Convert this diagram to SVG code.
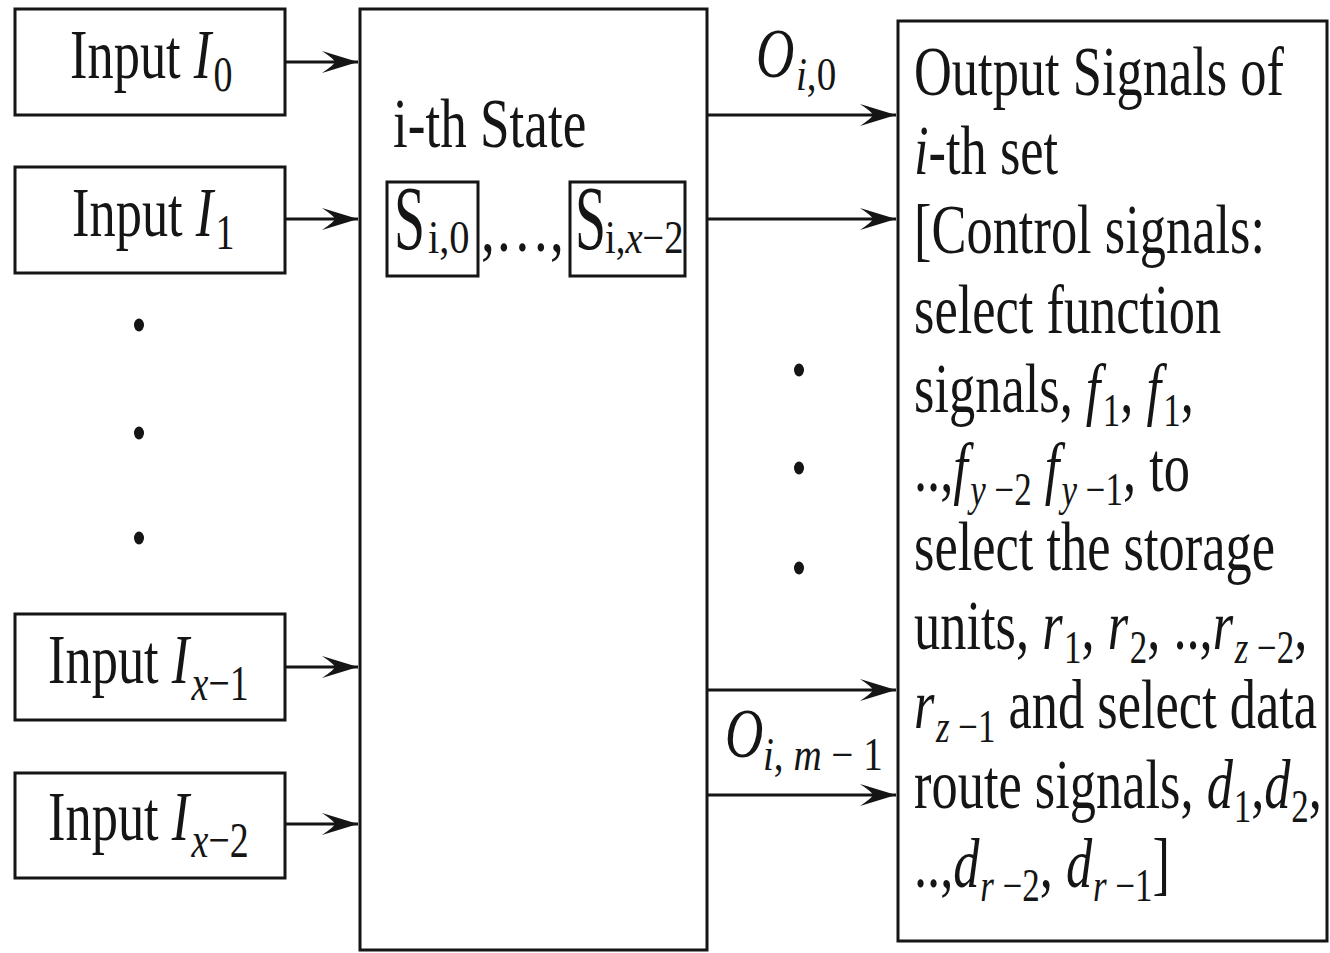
<svg xmlns="http://www.w3.org/2000/svg" width="1330" height="953" viewBox="0 0 1330 953">
<style>
.t{font-family:"Liberation Serif","Times New Roman",serif;font-size:69px;fill:#151515}
.it{font-style:italic}
.sub{font-size:46px}
.isub{font-size:50px}
.box{fill:#fff;stroke:#151515;stroke-width:3}
.conn line{stroke:#151515;stroke-width:3}
.dot{fill:#151515}
</style>
<defs>
<marker id="ah" markerUnits="userSpaceOnUse" markerWidth="40" markerHeight="26" refX="36" refY="12" orient="auto" viewBox="0 0 40 24">
<path d="M36,12 L0,1 Q12,9 13,12 Q12,15 0,23 Z" fill="#151515"/>
</marker>
</defs>
<rect width="1330" height="953" fill="#fff"/>

<g id="in0">
<rect class="box" x="15" y="9" width="270" height="106"/>
<text class="t" transform="translate(70,78) scale(0.76,1)">Input <tspan class="it">I</tspan><tspan class="isub" dx="3" dy="13">0</tspan></text>
</g>
<g id="in1">
<rect class="box" x="15" y="167" width="270" height="106"/>
<text class="t" transform="translate(72,236) scale(0.76,1)">Input <tspan class="it">I</tspan><tspan class="isub" dx="3" dy="13">1</tspan></text>
</g>
<g id="in_x1">
<rect class="box" x="15" y="614" width="270" height="106"/>
<text class="t" transform="translate(48,683) scale(0.76,1)">Input <tspan class="it">I</tspan><tspan class="isub" dx="3" dy="17"><tspan class="it">x</tspan>−1</tspan></text>
</g>
<g id="in_x2">
<rect class="box" x="15" y="773" width="270" height="105"/>
<text class="t" transform="translate(48,840) scale(0.76,1)">Input <tspan class="it">I</tspan><tspan class="isub" dx="3" dy="17"><tspan class="it">x</tspan>−2</tspan></text>
</g>

<g id="dots-left">
<ellipse class="dot" cx="139" cy="325" rx="5" ry="6.5"/>
<ellipse class="dot" cx="139" cy="433" rx="5" ry="6.5"/>
<ellipse class="dot" cx="139" cy="538" rx="5" ry="6.5"/>
</g>

<g id="state">
<rect class="box" x="360" y="9" width="347" height="941"/>
<text class="t" transform="translate(393,147) scale(0.77,1)">i-th State</text>
<g id="s0">
<rect class="box" x="387" y="182" width="91" height="94"/>
<text class="t" style="font-size:90px" transform="translate(394,249) scale(0.62,1)">S</text>
<text class="t sub" transform="translate(428,253) scale(0.88,1)">i,0</text>
</g>
<text class="t" transform="translate(481,251) scale(0.8,1)">,…,</text>
<g id="sx2">
<rect class="box" x="570" y="182" width="115" height="94"/>
<text class="t" style="font-size:90px" transform="translate(575,249) scale(0.62,1)">S</text>
<text class="t sub" transform="translate(605,253) scale(0.84,1)">i,<tspan class="it">x</tspan>−2</text>
</g>
</g>

<g id="dots-right">
<ellipse class="dot" cx="799" cy="370" rx="5" ry="6.5"/>
<ellipse class="dot" cx="799" cy="468" rx="5" ry="6.5"/>
<ellipse class="dot" cx="799" cy="568" rx="5" ry="6.5"/>
</g>

<g id="out">
<rect class="box" x="898" y="21" width="429" height="920"/>
<text class="t" transform="translate(914,95) scale(0.76,1)">Output Signals of</text>
<text class="t" transform="translate(914,174) scale(0.76,1)"><tspan class="it">i</tspan>-th set</text>
<text class="t" transform="translate(914,253) scale(0.76,1)">[Control signals:</text>
<text class="t" transform="translate(914,333) scale(0.76,1)">select function</text>
<text class="t" transform="translate(914,412) scale(0.76,1)">signals, <tspan class="it">f</tspan><tspan class="sub" dx="3" dy="14">1</tspan><tspan dy="-14">, </tspan><tspan class="it">f</tspan><tspan class="sub" dx="3" dy="14">1</tspan><tspan dy="-14">,</tspan></text>
<text class="t" transform="translate(914,491) scale(0.76,1)">..,<tspan class="it">f</tspan><tspan class="sub" dx="3" dy="14"><tspan class="it">y</tspan> −2</tspan><tspan class="it" dy="-14"> f</tspan><tspan class="sub" dx="3" dy="14"><tspan class="it">y</tspan> −1</tspan><tspan dy="-14">, to</tspan></text>
<text class="t" transform="translate(914,570) scale(0.76,1)">select the storage</text>
<text class="t" transform="translate(914,649) scale(0.76,1)">units, <tspan class="it">r</tspan><tspan class="sub" dx="2" dy="14">1</tspan><tspan dy="-14">, </tspan><tspan class="it">r</tspan><tspan class="sub" dx="2" dy="14">2</tspan><tspan dy="-14">, ..,</tspan><tspan class="it">r</tspan><tspan class="sub" dx="2" dy="14"><tspan class="it">z</tspan> −2</tspan><tspan dy="-14">,</tspan></text>
<text class="t" transform="translate(914,728) scale(0.76,1)"><tspan class="it">r</tspan><tspan class="sub" dx="2" dy="14"><tspan class="it">z</tspan> −1</tspan><tspan dy="-14"> and select data</tspan></text>
<text class="t" transform="translate(914,808) scale(0.76,1)">route signals, <tspan class="it">d</tspan><tspan class="sub" dx="1" dy="14">1</tspan><tspan dy="-14">,</tspan><tspan class="it">d</tspan><tspan class="sub" dx="1" dy="14">2</tspan><tspan dy="-14">,</tspan></text>
<text class="t" transform="translate(914,887) scale(0.76,1)">..,<tspan class="it">d</tspan><tspan class="sub" dx="1" dy="14"><tspan class="it">r</tspan> −2</tspan><tspan dy="-14">, </tspan><tspan class="it">d</tspan><tspan class="sub" dx="1" dy="14"><tspan class="it">r</tspan> −1</tspan><tspan dy="-14">]</tspan></text>
</g>

<g id="connectors" class="conn">
<line x1="285" y1="62" x2="358" y2="62" marker-end="url(#ah)"/>
<line x1="285" y1="219" x2="358" y2="219" marker-end="url(#ah)"/>
<line x1="285" y1="667" x2="358" y2="667" marker-end="url(#ah)"/>
<line x1="285" y1="824" x2="358" y2="824" marker-end="url(#ah)"/>
<line x1="707" y1="115" x2="896" y2="115" marker-end="url(#ah)"/>
<line x1="707" y1="219" x2="896" y2="219" marker-end="url(#ah)"/>
<line x1="707" y1="690" x2="896" y2="690" marker-end="url(#ah)"/>
<line x1="707" y1="795" x2="896" y2="795" marker-end="url(#ah)"/>
</g>

<g id="labels">
<text class="t" transform="translate(756,77) scale(0.77,1)"><tspan class="it">O</tspan></text>
<text class="t sub" transform="translate(796,90) scale(0.85,1)"><tspan class="it">i</tspan>,0</text>
<text class="t" transform="translate(725,757) scale(0.77,1)"><tspan class="it">O</tspan></text>
<text class="t sub" transform="translate(763,770) scale(0.85,1)"><tspan class="it">i</tspan>, <tspan class="it">m</tspan> − 1</text>
</g>
</svg>
